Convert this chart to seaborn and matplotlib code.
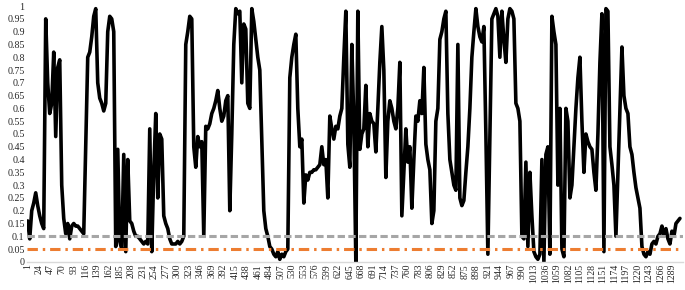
import numpy as np
import pandas as pd
import matplotlib
matplotlib.use("Agg")
import matplotlib.pyplot as plt
import seaborn as sns

step = 4
values = [
    0.16, 0.09, 0.20, 0.23, 0.27, 0.22, 0.18, 0.15, 0.13, 0.95,
    0.70, 0.58, 0.62, 0.82, 0.49, 0.76, 0.79, 0.30, 0.17, 0.11,
    0.15, 0.09, 0.14, 0.15, 0.14, 0.14, 0.13, 0.12, 0.11, 0.45,
    0.80, 0.82, 0.88, 0.96, 0.99, 0.70, 0.64, 0.62, 0.59, 0.62,
    0.90, 0.96, 0.95, 0.90, 0.06, 0.44, 0.08, 0.05, 0.42, 0.04,
    0.40, 0.16, 0.15, 0.12, 0.10, 0.10, 0.09, 0.08, 0.07, 0.08,
    0.07, 0.52, 0.04, 0.35, 0.58, 0.25, 0.50, 0.48, 0.18, 0.15,
    0.13, 0.09, 0.07, 0.07, 0.07, 0.08, 0.07, 0.08, 0.10, 0.85,
    0.90, 0.96, 0.95, 0.45, 0.37, 0.49, 0.45, 0.47, 0.10, 0.53,
    0.52, 0.54, 0.58, 0.60, 0.63, 0.67, 0.60, 0.55, 0.57, 0.63,
    0.65, 0.20, 0.50, 0.85, 0.99, 0.97, 0.98, 0.70, 0.93, 0.91,
    0.62, 0.60, 0.99, 0.94, 0.87, 0.80, 0.75, 0.48, 0.20, 0.13,
    0.10, 0.06, 0.05, 0.03, 0.02, 0.04, 0.01, 0.03, 0.02, 0.04,
    0.05, 0.72, 0.80, 0.85, 0.89, 0.60, 0.45, 0.48, 0.23, 0.34,
    0.32, 0.35, 0.35, 0.36, 0.36, 0.37, 0.38, 0.45, 0.38, 0.40,
    0.25, 0.57, 0.52, 0.48, 0.53, 0.52, 0.57, 0.60, 0.80, 0.98,
    0.46, 0.37, 0.85, 0.55, 0.00, 0.98, 0.44, 0.50, 0.52, 0.69,
    0.45, 0.58, 0.55, 0.54, 0.43, 0.60, 0.78, 0.92, 0.75, 0.33,
    0.55, 0.63, 0.60, 0.55, 0.52, 0.60, 0.78, 0.18, 0.35, 0.52,
    0.39, 0.45, 0.21, 0.40, 0.57, 0.55, 0.63, 0.58, 0.76, 0.46,
    0.40, 0.36, 0.15, 0.20, 0.55, 0.60, 0.87, 0.90, 0.95, 0.98,
    0.58, 0.40, 0.35, 0.30, 0.28, 0.85, 0.25, 0.22, 0.24, 0.35,
    0.45, 0.60, 0.80, 0.90, 0.99, 0.92, 0.88, 0.86, 0.92, 0.50,
    0.03, 0.50, 0.95, 0.97, 0.99, 0.96, 0.80, 0.98, 0.87, 0.78,
    0.95, 0.99, 0.98, 0.95, 0.62, 0.60, 0.55, 0.10, 0.09, 0.39,
    0.06, 0.35, 0.18, 0.04, 0.02, 0.01, 0.03, 0.40, 0.00, 0.42,
    0.45, 0.03, 0.96, 0.90, 0.85, 0.30, 0.60, 0.05, 0.02, 0.60,
    0.55, 0.25, 0.30, 0.45, 0.60, 0.72, 0.80, 0.55, 0.35, 0.50,
    0.47, 0.45, 0.44, 0.35, 0.28, 0.50, 0.78, 0.97, 0.04, 0.99,
    0.98, 0.45, 0.38, 0.30, 0.10, 0.35, 0.60, 0.84, 0.65, 0.60,
    0.58, 0.45, 0.42, 0.35, 0.29, 0.25, 0.21, 0.06, 0.03, 0.02,
    0.04, 0.03, 0.07, 0.08, 0.07, 0.10, 0.11, 0.14, 0.10, 0.13,
    0.09, 0.07, 0.12, 0.10, 0.15, 0.16, 0.17,
]
obs = list(range(1, step * len(values), step))

threshold_grey = 0.10
threshold_orange = 0.05

tick_labels = list(range(1, 1290, 23))
y_ticks = [round(0.05 * i, 2) for i in range(21)]

df = pd.DataFrame({"obs": obs, "value": values})

sns.set_style("white")
plt.rcParams["font.family"] = ["Liberation Serif", "DejaVu Serif"]

fig = plt.figure(figsize=(6.85, 2.9), dpi=100)
ax = fig.add_axes([0.039, 0.097, 0.958, 0.882])

sns.lineplot(data=df, x="obs", y="value", color="black", linewidth=2.6, ax=ax)

ax.axhline(threshold_grey, color="#a6a6a6", linewidth=2.2, dashes=(2.4, 1.1), zorder=3)
ax.axhline(threshold_orange, color="#ed7d31", linewidth=2.2, dashes=(3.4, 1.6, 0.8, 1.6), zorder=3)

ax.set_xlim(-1, 1311)
ax.set_ylim(0, 1)
ax.set_yticks(y_ticks)
ax.set_yticklabels(["%g" % t for t in y_ticks], fontsize=7.2)
ax.set_xticks(tick_labels)
ax.set_xticklabels([str(t) for t in tick_labels], rotation=90, fontsize=7)
ax.tick_params(axis="both", length=0, pad=1.5)
ax.set_xlabel("")
ax.set_ylabel("")

for s in ["top", "right", "left"]:
    ax.spines[s].set_visible(False)
ax.spines["bottom"].set_color("#d9d9d9")
ax.spines["bottom"].set_linewidth(1)

fig.savefig("out.png", dpi=100)
